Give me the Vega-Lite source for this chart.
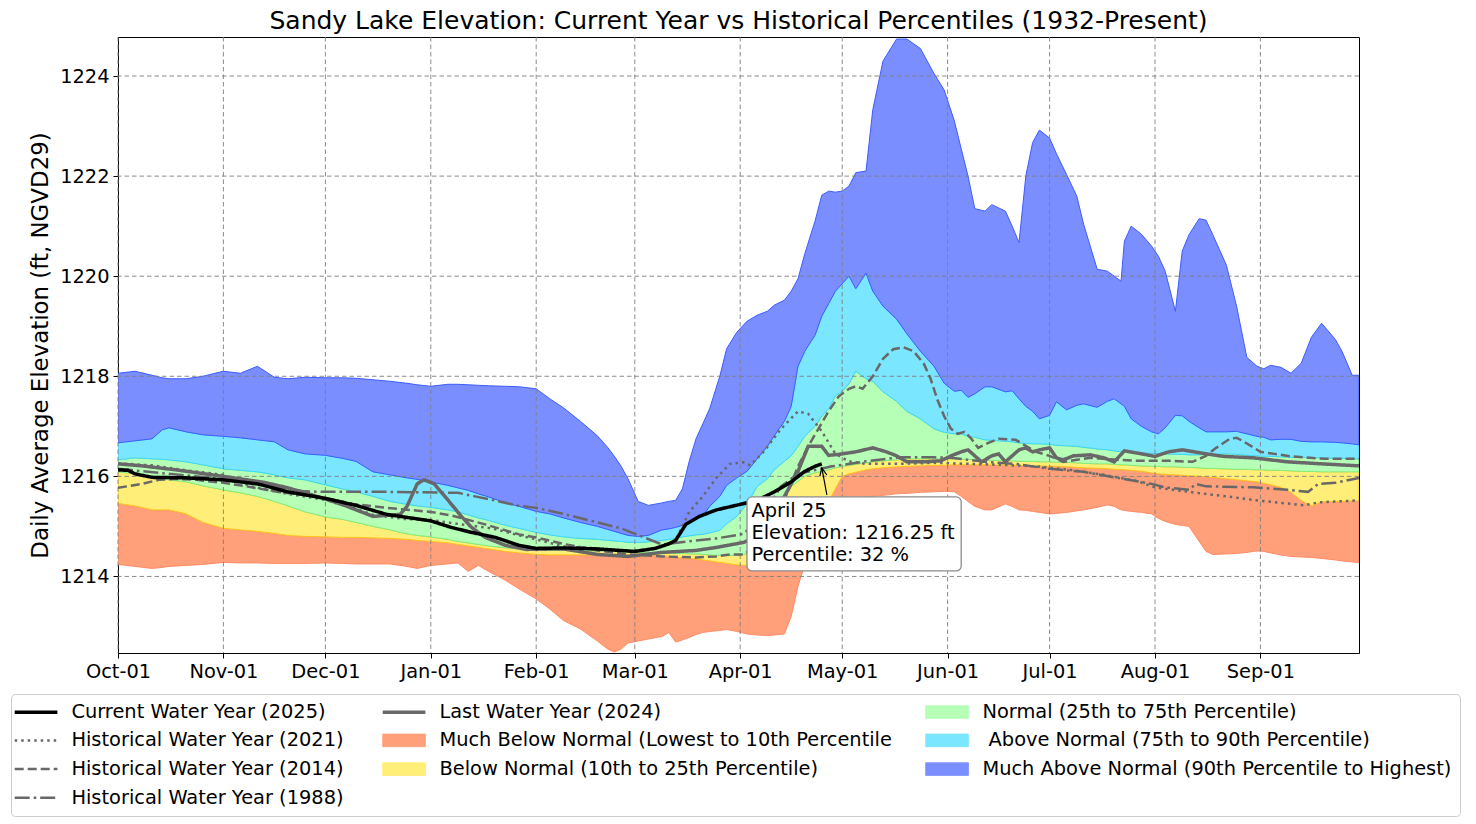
{
"$schema": "https://vega.github.io/schema/vega-lite/v6.json",
"autosize": {"type": "none"},
"padding": {"left": 118, "top": 37, "right": 117, "bottom": 171},
"width": 1241,
"height": 616,
"title": {"text": "Sandy Lake Elevation: Current Year vs Historical Percentiles (1932-Present)", "font": "DejaVu Sans", "fontSize": 25, "fontWeight": "normal", "color": "black", "offset": 3},
"config": {
  "font": "DejaVu Sans",
  "view": {"stroke": "black", "strokeWidth": 1},
  "axis": {"labelFont": "DejaVu Sans", "labelFontSize": 19.4, "labelColor": "black", "titleFont": "DejaVu Sans", "titleFontSize": 22.9, "titleFontWeight": "normal", "titleColor": "black", "tickColor": "black", "tickSize": 5, "tickWidth": 1, "domainColor": "black", "domainWidth": 1, "grid": false, "labelPadding": 4, "zindex": 1, "labelFlush": false}
},
"datasets": {
"bands": [
{"d":"2023-10-01","mn":1214.24,"p10":1215.46,"p25":1216.09,"p75":1216.33,"p90":1216.67,"mx":1218.06},
{"d":"2023-10-06","mn":1214.20,"p10":1215.41,"p25":1216.05,"p75":1216.37,"p90":1216.71,"mx":1218.10},
{"d":"2023-10-11","mn":1214.16,"p10":1215.33,"p25":1216.00,"p75":1216.35,"p90":1216.75,"mx":1218.02},
{"d":"2023-10-14","mn":1214.18,"p10":1215.33,"p25":1215.96,"p75":1216.34,"p90":1216.93,"mx":1217.97},
{"d":"2023-10-16","mn":1214.20,"p10":1215.33,"p25":1215.93,"p75":1216.33,"p90":1216.97,"mx":1217.95},
{"d":"2023-10-21","mn":1214.22,"p10":1215.25,"p25":1215.89,"p75":1216.29,"p90":1216.89,"mx":1217.95},
{"d":"2023-10-26","mn":1214.24,"p10":1215.08,"p25":1215.81,"p75":1216.23,"p90":1216.83,"mx":1218.00},
{"d":"2023-11-01","mn":1214.28,"p10":1214.96,"p25":1215.73,"p75":1216.15,"p90":1216.80,"mx":1218.10},
{"d":"2023-11-06","mn":1214.27,"p10":1214.93,"p25":1215.67,"p75":1216.12,"p90":1216.77,"mx":1218.06},
{"d":"2023-11-11","mn":1214.27,"p10":1214.90,"p25":1215.60,"p75":1216.09,"p90":1216.73,"mx":1218.20},
{"d":"2023-11-16","mn":1214.26,"p10":1214.86,"p25":1215.50,"p75":1216.03,"p90":1216.69,"mx":1217.98},
{"d":"2023-11-20","mn":1214.26,"p10":1214.82,"p25":1215.41,"p75":1215.97,"p90":1216.53,"mx":1217.95},
{"d":"2023-11-25","mn":1214.26,"p10":1214.80,"p25":1215.29,"p75":1215.93,"p90":1216.45,"mx":1217.98},
{"d":"2023-12-01","mn":1214.27,"p10":1214.79,"p25":1215.19,"p75":1215.83,"p90":1216.42,"mx":1217.97},
{"d":"2023-12-06","mn":1214.26,"p10":1214.78,"p25":1215.14,"p75":1215.75,"p90":1216.36,"mx":1217.97},
{"d":"2023-12-10","mn":1214.25,"p10":1214.78,"p25":1215.08,"p75":1215.69,"p90":1216.30,"mx":1217.96},
{"d":"2023-12-15","mn":1214.25,"p10":1214.77,"p25":1215.00,"p75":1215.60,"p90":1216.09,"mx":1217.93},
{"d":"2023-12-20","mn":1214.25,"p10":1214.76,"p25":1214.93,"p75":1215.50,"p90":1216.03,"mx":1217.90},
{"d":"2023-12-25","mn":1214.20,"p10":1214.74,"p25":1214.85,"p75":1215.44,"p90":1215.97,"mx":1217.86},
{"d":"2023-12-28","mn":1214.16,"p10":1214.72,"p25":1214.82,"p75":1215.41,"p90":1215.94,"mx":1217.83},
{"d":"2024-01-01","mn":1214.22,"p10":1214.70,"p25":1214.79,"p75":1215.38,"p90":1215.89,"mx":1217.80},
{"d":"2024-01-06","mn":1214.25,"p10":1214.67,"p25":1214.74,"p75":1215.33,"p90":1215.82,"mx":1217.84},
{"d":"2024-01-09","mn":1214.27,"p10":1214.64,"p25":1214.70,"p75":1215.29,"p90":1215.77,"mx":1217.84},
{"d":"2024-01-12","mn":1214.10,"p10":1214.61,"p25":1214.67,"p75":1215.23,"p90":1215.72,"mx":1217.83},
{"d":"2024-01-15","mn":1214.22,"p10":1214.58,"p25":1214.64,"p75":1215.17,"p90":1215.65,"mx":1217.82},
{"d":"2024-01-18","mn":1214.10,"p10":1214.55,"p25":1214.61,"p75":1215.12,"p90":1215.59,"mx":1217.81},
{"d":"2024-01-23","mn":1213.92,"p10":1214.50,"p25":1214.57,"p75":1215.02,"p90":1215.47,"mx":1217.80},
{"d":"2024-01-27","mn":1213.75,"p10":1214.47,"p25":1214.55,"p75":1214.96,"p90":1215.40,"mx":1217.79},
{"d":"2024-02-01","mn":1213.55,"p10":1214.44,"p25":1214.53,"p75":1214.88,"p90":1215.30,"mx":1217.75},
{"d":"2024-02-05","mn":1213.35,"p10":1214.43,"p25":1214.52,"p75":1214.83,"p90":1215.25,"mx":1217.55},
{"d":"2024-02-09","mn":1213.12,"p10":1214.43,"p25":1214.52,"p75":1214.79,"p90":1215.17,"mx":1217.37},
{"d":"2024-02-14","mn":1212.95,"p10":1214.43,"p25":1214.51,"p75":1214.76,"p90":1215.08,"mx":1217.10},
{"d":"2024-02-19","mn":1212.71,"p10":1214.43,"p25":1214.51,"p75":1214.74,"p90":1215.00,"mx":1216.81},
{"d":"2024-02-22","mn":1212.55,"p10":1214.43,"p25":1214.50,"p75":1214.72,"p90":1214.94,"mx":1216.58},
{"d":"2024-02-24","mn":1212.49,"p10":1214.43,"p25":1214.50,"p75":1214.71,"p90":1214.90,"mx":1216.40},
{"d":"2024-02-26","mn":1212.55,"p10":1214.43,"p25":1214.49,"p75":1214.70,"p90":1214.86,"mx":1216.20},
{"d":"2024-02-28","mn":1212.67,"p10":1214.43,"p25":1214.48,"p75":1214.68,"p90":1214.82,"mx":1215.95},
{"d":"2024-03-02","mn":1212.71,"p10":1214.43,"p25":1214.48,"p75":1214.68,"p90":1214.80,"mx":1215.50},
{"d":"2024-03-05","mn":1212.75,"p10":1214.43,"p25":1214.48,"p75":1214.69,"p90":1214.82,"mx":1215.42},
{"d":"2024-03-09","mn":1212.80,"p10":1214.42,"p25":1214.47,"p75":1214.72,"p90":1214.93,"mx":1215.47},
{"d":"2024-03-11","mn":1212.88,"p10":1214.40,"p25":1214.47,"p75":1214.74,"p90":1214.95,"mx":1215.50},
{"d":"2024-03-13","mn":1212.69,"p10":1214.38,"p25":1214.46,"p75":1214.76,"p90":1214.98,"mx":1215.52},
{"d":"2024-03-15","mn":1212.73,"p10":1214.37,"p25":1214.46,"p75":1214.79,"p90":1215.02,"mx":1215.75},
{"d":"2024-03-17","mn":1212.78,"p10":1214.36,"p25":1214.45,"p75":1214.81,"p90":1215.08,"mx":1216.30},
{"d":"2024-03-19","mn":1212.84,"p10":1214.35,"p25":1214.45,"p75":1214.83,"p90":1215.15,"mx":1216.75},
{"d":"2024-03-21","mn":1212.88,"p10":1214.33,"p25":1214.44,"p75":1214.84,"p90":1215.20,"mx":1217.05},
{"d":"2024-03-23","mn":1212.90,"p10":1214.31,"p25":1214.43,"p75":1214.87,"p90":1215.40,"mx":1217.35},
{"d":"2024-03-26","mn":1212.92,"p10":1214.28,"p25":1214.42,"p75":1214.92,"p90":1215.60,"mx":1218.00},
{"d":"2024-03-28","mn":1212.94,"p10":1214.26,"p25":1214.42,"p75":1215.05,"p90":1215.82,"mx":1218.55},
{"d":"2024-03-31","mn":1212.90,"p10":1214.23,"p25":1214.42,"p75":1215.20,"p90":1215.97,"mx":1218.88},
{"d":"2024-04-03","mn":1212.85,"p10":1214.22,"p25":1214.45,"p75":1215.45,"p90":1216.10,"mx":1219.10},
{"d":"2024-04-06","mn":1212.83,"p10":1214.25,"p25":1214.60,"p75":1215.80,"p90":1216.35,"mx":1219.22},
{"d":"2024-04-09","mn":1212.82,"p10":1214.28,"p25":1214.80,"p75":1215.95,"p90":1216.60,"mx":1219.30},
{"d":"2024-04-11","mn":1212.83,"p10":1214.30,"p25":1214.96,"p75":1216.13,"p90":1216.81,"mx":1219.42},
{"d":"2024-04-14","mn":1212.85,"p10":1214.35,"p25":1215.53,"p75":1216.30,"p90":1217.10,"mx":1219.52},
{"d":"2024-04-16","mn":1213.20,"p10":1214.45,"p25":1215.80,"p75":1216.41,"p90":1217.40,"mx":1219.70},
{"d":"2024-04-18","mn":1213.80,"p10":1214.55,"p25":1215.90,"p75":1216.60,"p90":1218.20,"mx":1219.95},
{"d":"2024-04-20","mn":1214.25,"p10":1214.70,"p25":1216.00,"p75":1216.80,"p90":1218.50,"mx":1220.45},
{"d":"2024-04-23","mn":1214.70,"p10":1215.00,"p25":1216.07,"p75":1217.00,"p90":1218.82,"mx":1221.10},
{"d":"2024-04-25","mn":1214.90,"p10":1215.20,"p25":1216.10,"p75":1217.20,"p90":1219.20,"mx":1221.62},
{"d":"2024-04-27","mn":1215.10,"p10":1215.50,"p25":1216.13,"p75":1217.35,"p90":1219.45,"mx":1221.70},
{"d":"2024-04-29","mn":1215.25,"p10":1215.75,"p25":1216.17,"p75":1217.61,"p90":1219.70,"mx":1221.68},
{"d":"2024-05-01","mn":1215.40,"p10":1216.00,"p25":1216.20,"p75":1217.70,"p90":1219.85,"mx":1221.70},
{"d":"2024-05-03","mn":1215.50,"p10":1216.05,"p25":1216.22,"p75":1217.85,"p90":1220.00,"mx":1221.80},
{"d":"2024-05-05","mn":1215.55,"p10":1216.08,"p25":1216.24,"p75":1218.10,"p90":1219.75,"mx":1222.07},
{"d":"2024-05-08","mn":1215.58,"p10":1216.13,"p25":1216.27,"p75":1217.95,"p90":1220.06,"mx":1222.10},
{"d":"2024-05-10","mn":1215.60,"p10":1216.15,"p25":1216.29,"p75":1217.90,"p90":1219.70,"mx":1223.33},
{"d":"2024-05-13","mn":1215.62,"p10":1216.17,"p25":1216.31,"p75":1217.69,"p90":1219.40,"mx":1224.30},
{"d":"2024-05-17","mn":1215.65,"p10":1216.19,"p25":1216.33,"p75":1217.50,"p90":1219.14,"mx":1224.74},
{"d":"2024-05-20","mn":1215.66,"p10":1216.20,"p25":1216.35,"p75":1217.30,"p90":1218.85,"mx":1224.74},
{"d":"2024-05-24","mn":1215.68,"p10":1216.21,"p25":1216.35,"p75":1217.15,"p90":1218.50,"mx":1224.55},
{"d":"2024-05-28","mn":1215.69,"p10":1216.22,"p25":1216.35,"p75":1216.95,"p90":1218.20,"mx":1224.05},
{"d":"2024-05-31","mn":1215.70,"p10":1216.22,"p25":1216.35,"p75":1216.88,"p90":1217.86,"mx":1223.72},
{"d":"2024-06-03","mn":1215.69,"p10":1216.23,"p25":1216.35,"p75":1216.85,"p90":1217.70,"mx":1223.10},
{"d":"2024-06-05","mn":1215.60,"p10":1216.23,"p25":1216.34,"p75":1216.85,"p90":1217.72,"mx":1222.55},
{"d":"2024-06-07","mn":1215.50,"p10":1216.23,"p25":1216.34,"p75":1216.80,"p90":1217.58,"mx":1222.00},
{"d":"2024-06-09","mn":1215.40,"p10":1216.23,"p25":1216.33,"p75":1216.78,"p90":1217.65,"mx":1221.35},
{"d":"2024-06-12","mn":1215.33,"p10":1216.23,"p25":1216.32,"p75":1216.73,"p90":1217.79,"mx":1221.30},
{"d":"2024-06-14","mn":1215.33,"p10":1216.23,"p25":1216.32,"p75":1216.72,"p90":1217.79,"mx":1221.43},
{"d":"2024-06-18","mn":1215.45,"p10":1216.22,"p25":1216.31,"p75":1216.70,"p90":1217.69,"mx":1221.30},
{"d":"2024-06-20","mn":1215.40,"p10":1216.22,"p25":1216.31,"p75":1216.69,"p90":1217.71,"mx":1221.00},
{"d":"2024-06-22","mn":1215.33,"p10":1216.22,"p25":1216.30,"p75":1216.67,"p90":1217.55,"mx":1220.67},
{"d":"2024-06-24","mn":1215.32,"p10":1216.21,"p25":1216.30,"p75":1216.66,"p90":1217.40,"mx":1222.00},
{"d":"2024-06-26","mn":1215.30,"p10":1216.21,"p25":1216.30,"p75":1216.65,"p90":1217.30,"mx":1222.67},
{"d":"2024-06-28","mn":1215.28,"p10":1216.21,"p25":1216.29,"p75":1216.65,"p90":1217.15,"mx":1222.92},
{"d":"2024-07-01","mn":1215.25,"p10":1216.20,"p25":1216.29,"p75":1216.64,"p90":1217.22,"mx":1222.76},
{"d":"2024-07-03","mn":1215.26,"p10":1216.20,"p25":1216.28,"p75":1216.62,"p90":1217.49,"mx":1222.45},
{"d":"2024-07-06","mn":1215.28,"p10":1216.19,"p25":1216.28,"p75":1216.61,"p90":1217.33,"mx":1222.03},
{"d":"2024-07-09","mn":1215.31,"p10":1216.18,"p25":1216.27,"p75":1216.60,"p90":1217.42,"mx":1221.60},
{"d":"2024-07-11","mn":1215.33,"p10":1216.17,"p25":1216.26,"p75":1216.58,"p90":1217.45,"mx":1221.04},
{"d":"2024-07-15","mn":1215.38,"p10":1216.16,"p25":1216.25,"p75":1216.55,"p90":1217.38,"mx":1220.14},
{"d":"2024-07-18","mn":1215.43,"p10":1216.15,"p25":1216.25,"p75":1216.53,"p90":1217.50,"mx":1220.10},
{"d":"2024-07-20","mn":1215.40,"p10":1216.14,"p25":1216.24,"p75":1216.51,"p90":1217.55,"mx":1220.00},
{"d":"2024-07-22","mn":1215.33,"p10":1216.13,"p25":1216.23,"p75":1216.49,"p90":1217.45,"mx":1219.90},
{"d":"2024-07-23","mn":1215.32,"p10":1216.13,"p25":1216.23,"p75":1216.49,"p90":1217.40,"mx":1220.70},
{"d":"2024-07-25","mn":1215.30,"p10":1216.12,"p25":1216.22,"p75":1216.48,"p90":1217.15,"mx":1221.00},
{"d":"2024-07-28","mn":1215.28,"p10":1216.10,"p25":1216.21,"p75":1216.47,"p90":1217.00,"mx":1220.84},
{"d":"2024-07-31","mn":1215.25,"p10":1216.07,"p25":1216.20,"p75":1216.46,"p90":1216.89,"mx":1220.60},
{"d":"2024-08-02","mn":1215.16,"p10":1216.05,"p25":1216.20,"p75":1216.45,"p90":1216.85,"mx":1220.40},
{"d":"2024-08-04","mn":1215.10,"p10":1216.04,"p25":1216.19,"p75":1216.45,"p90":1216.97,"mx":1220.10},
{"d":"2024-08-07","mn":1215.04,"p10":1216.03,"p25":1216.19,"p75":1216.44,"p90":1217.22,"mx":1219.30},
{"d":"2024-08-09","mn":1215.02,"p10":1216.02,"p25":1216.18,"p75":1216.44,"p90":1217.21,"mx":1220.50},
{"d":"2024-08-11","mn":1215.00,"p10":1216.01,"p25":1216.18,"p75":1216.43,"p90":1217.10,"mx":1220.83},
{"d":"2024-08-14","mn":1214.70,"p10":1216.00,"p25":1216.17,"p75":1216.43,"p90":1216.97,"mx":1221.15},
{"d":"2024-08-16","mn":1214.50,"p10":1215.99,"p25":1216.16,"p75":1216.44,"p90":1216.89,"mx":1221.12},
{"d":"2024-08-18","mn":1214.44,"p10":1215.98,"p25":1216.16,"p75":1216.44,"p90":1216.89,"mx":1220.83},
{"d":"2024-08-22","mn":1214.45,"p10":1215.95,"p25":1216.15,"p75":1216.45,"p90":1216.89,"mx":1220.22},
{"d":"2024-08-25","mn":1214.46,"p10":1215.93,"p25":1216.14,"p75":1216.44,"p90":1216.90,"mx":1219.40},
{"d":"2024-08-28","mn":1214.48,"p10":1215.91,"p25":1216.14,"p75":1216.42,"p90":1216.85,"mx":1218.38},
{"d":"2024-08-31","mn":1214.51,"p10":1215.89,"p25":1216.13,"p75":1216.41,"p90":1216.80,"mx":1218.20},
{"d":"2024-09-02","mn":1214.50,"p10":1215.86,"p25":1216.13,"p75":1216.40,"p90":1216.78,"mx":1218.15},
{"d":"2024-09-04","mn":1214.47,"p10":1215.83,"p25":1216.12,"p75":1216.40,"p90":1216.73,"mx":1218.22},
{"d":"2024-09-07","mn":1214.43,"p10":1215.78,"p25":1216.12,"p75":1216.39,"p90":1216.74,"mx":1218.18},
{"d":"2024-09-10","mn":1214.40,"p10":1215.68,"p25":1216.11,"p75":1216.38,"p90":1216.74,"mx":1218.06},
{"d":"2024-09-13","mn":1214.39,"p10":1215.52,"p25":1216.10,"p75":1216.38,"p90":1216.70,"mx":1218.26},
{"d":"2024-09-16","mn":1214.38,"p10":1215.41,"p25":1216.10,"p75":1216.37,"p90":1216.69,"mx":1218.78},
{"d":"2024-09-19","mn":1214.36,"p10":1215.49,"p25":1216.09,"p75":1216.37,"p90":1216.69,"mx":1219.06},
{"d":"2024-09-23","mn":1214.33,"p10":1215.50,"p25":1216.09,"p75":1216.36,"p90":1216.68,"mx":1218.74},
{"d":"2024-09-25","mn":1214.31,"p10":1215.50,"p25":1216.09,"p75":1216.36,"p90":1216.67,"mx":1218.50},
{"d":"2024-09-28","mn":1214.29,"p10":1215.51,"p25":1216.09,"p75":1216.35,"p90":1216.65,"mx":1218.02},
{"d":"2024-09-30","mn":1214.28,"p10":1215.51,"p25":1216.09,"p75":1216.35,"p90":1216.63,"mx":1218.02}
],
"cur": [
{"d":"2023-10-01","v":1216.13},{"d":"2023-10-04","v":1216.12},{"d":"2023-10-06","v":1216.05},{"d":"2023-10-11","v":1215.98},
{"d":"2023-10-21","v":1215.97},{"d":"2023-11-01","v":1215.93},{"d":"2023-11-11","v":1215.85},{"d":"2023-11-20","v":1215.69},
{"d":"2023-12-01","v":1215.56},{"d":"2023-12-10","v":1215.42},{"d":"2023-12-19","v":1215.24},{"d":"2024-01-01","v":1215.11},
{"d":"2024-01-07","v":1214.98},{"d":"2024-01-13","v":1214.88},{"d":"2024-01-20","v":1214.78},{"d":"2024-01-27","v":1214.62},
{"d":"2024-02-01","v":1214.56},{"d":"2024-02-09","v":1214.57},{"d":"2024-02-19","v":1214.55},{"d":"2024-03-01","v":1214.50},
{"d":"2024-03-07","v":1214.56},{"d":"2024-03-11","v":1214.65},{"d":"2024-03-13","v":1214.72},{"d":"2024-03-16","v":1215.04},
{"d":"2024-03-20","v":1215.20},{"d":"2024-03-25","v":1215.33},{"d":"2024-04-01","v":1215.44},{"d":"2024-04-06","v":1215.52},
{"d":"2024-04-11","v":1215.69},{"d":"2024-04-16","v":1215.89},{"d":"2024-04-20","v":1216.10},{"d":"2024-04-23","v":1216.20},
{"d":"2024-04-25","v":1216.25}
],
"last": [
{"d":"2023-10-01","v":1216.25},{"d":"2023-10-08","v":1216.21},{"d":"2023-10-18","v":1216.13},{"d":"2023-11-01","v":1216.00},
{"d":"2023-11-13","v":1215.88},{"d":"2023-11-20","v":1215.77},{"d":"2023-11-30","v":1215.57},{"d":"2023-12-07","v":1215.41},
{"d":"2023-12-15","v":1215.20},{"d":"2023-12-23","v":1215.24},{"d":"2023-12-25","v":1215.40},{"d":"2023-12-28","v":1215.85},
{"d":"2023-12-30","v":1215.93},{"d":"2024-01-02","v":1215.85},{"d":"2024-01-06","v":1215.53},{"d":"2024-01-10","v":1215.20},
{"d":"2024-01-13","v":1214.98},{"d":"2024-01-17","v":1214.78},{"d":"2024-01-23","v":1214.62},{"d":"2024-01-29","v":1214.54},
{"d":"2024-02-09","v":1214.55},{"d":"2024-02-19","v":1214.44},{"d":"2024-02-28","v":1214.40},{"d":"2024-03-09","v":1214.48},
{"d":"2024-03-19","v":1214.52},{"d":"2024-03-25","v":1214.58},{"d":"2024-03-29","v":1214.63},{"d":"2024-04-02","v":1214.68},
{"d":"2024-04-06","v":1214.80},{"d":"2024-04-10","v":1215.15},{"d":"2024-04-14","v":1215.60},{"d":"2024-04-18","v":1216.10},
{"d":"2024-04-21","v":1216.60},{"d":"2024-04-25","v":1216.60},{"d":"2024-04-27","v":1216.42},{"d":"2024-04-30","v":1216.44},
{"d":"2024-05-05","v":1216.49},{"d":"2024-05-10","v":1216.57},{"d":"2024-05-14","v":1216.49},{"d":"2024-05-17","v":1216.41},
{"d":"2024-05-20","v":1216.29},{"d":"2024-05-25","v":1216.29},{"d":"2024-05-30","v":1216.31},{"d":"2024-06-02","v":1216.41},
{"d":"2024-06-05","v":1216.49},{"d":"2024-06-07","v":1216.53},{"d":"2024-06-09","v":1216.41},{"d":"2024-06-11","v":1216.29},
{"d":"2024-06-14","v":1216.41},{"d":"2024-06-16","v":1216.45},{"d":"2024-06-18","v":1216.29},{"d":"2024-06-20","v":1216.41},
{"d":"2024-06-22","v":1216.53},{"d":"2024-06-24","v":1216.57},{"d":"2024-06-26","v":1216.49},{"d":"2024-06-28","v":1216.53},
{"d":"2024-07-01","v":1216.57},{"d":"2024-07-03","v":1216.37},{"d":"2024-07-05","v":1216.33},{"d":"2024-07-08","v":1216.41},
{"d":"2024-07-13","v":1216.43},{"d":"2024-07-17","v":1216.37},{"d":"2024-07-20","v":1216.29},{"d":"2024-07-23","v":1216.51},
{"d":"2024-07-28","v":1216.45},{"d":"2024-08-01","v":1216.40},{"d":"2024-08-05","v":1216.49},{"d":"2024-08-09","v":1216.53},
{"d":"2024-08-16","v":1216.45},{"d":"2024-08-21","v":1216.40},{"d":"2024-08-30","v":1216.37},{"d":"2024-09-09","v":1216.29},
{"d":"2024-09-19","v":1216.25},{"d":"2024-09-30","v":1216.21}
],
"y2021": [
{"d":"2023-10-01","v":1216.26},{"d":"2023-10-11","v":1216.22},{"d":"2023-10-21","v":1216.12},{"d":"2023-11-01","v":1216.03},
{"d":"2023-11-09","v":1215.80},{"d":"2023-11-20","v":1215.65},{"d":"2023-12-01","v":1215.53},{"d":"2023-12-10","v":1215.35},
{"d":"2023-12-15","v":1215.23},{"d":"2023-12-24","v":1215.15},{"d":"2024-01-01","v":1215.13},{"d":"2024-01-09","v":1215.05},
{"d":"2024-01-19","v":1214.96},{"d":"2024-01-27","v":1214.82},{"d":"2024-02-01","v":1214.74},{"d":"2024-02-09","v":1214.60},
{"d":"2024-02-19","v":1214.56},{"d":"2024-02-28","v":1214.50},{"d":"2024-03-07","v":1214.56},{"d":"2024-03-13","v":1214.72},
{"d":"2024-03-17","v":1215.29},{"d":"2024-03-21","v":1215.60},{"d":"2024-03-25","v":1215.97},{"d":"2024-03-29","v":1216.25},
{"d":"2024-04-02","v":1216.28},{"d":"2024-04-04","v":1216.22},{"d":"2024-04-08","v":1216.50},{"d":"2024-04-13","v":1216.95},
{"d":"2024-04-18","v":1217.30},{"d":"2024-04-21","v":1217.25},{"d":"2024-04-25","v":1216.90},{"d":"2024-04-29","v":1216.45},
{"d":"2024-05-03","v":1216.30},{"d":"2024-05-08","v":1216.25},{"d":"2024-05-18","v":1216.25},{"d":"2024-05-28","v":1216.27},
{"d":"2024-06-07","v":1216.25},{"d":"2024-06-17","v":1216.23},{"d":"2024-06-27","v":1216.20},{"d":"2024-07-07","v":1216.13},
{"d":"2024-07-17","v":1216.03},{"d":"2024-07-27","v":1215.90},{"d":"2024-08-01","v":1215.78},{"d":"2024-08-11","v":1215.69},
{"d":"2024-08-21","v":1215.61},{"d":"2024-08-31","v":1215.52},{"d":"2024-09-10","v":1215.45},{"d":"2024-09-14","v":1215.42},
{"d":"2024-09-18","v":1215.48},{"d":"2024-09-30","v":1215.52}
],
"y2014": [
{"d":"2023-10-01","v":1215.77},{"d":"2023-10-08","v":1215.85},{"d":"2023-10-13","v":1215.93},{"d":"2023-10-18","v":1215.95},
{"d":"2023-10-24","v":1215.93},{"d":"2023-11-01","v":1215.87},{"d":"2023-11-07","v":1215.81},{"d":"2023-11-17","v":1215.69},
{"d":"2023-11-27","v":1215.61},{"d":"2023-12-01","v":1215.57},{"d":"2023-12-09","v":1215.45},{"d":"2023-12-19","v":1215.37},
{"d":"2024-01-01","v":1215.29},{"d":"2024-01-07","v":1215.22},{"d":"2024-01-17","v":1215.04},{"d":"2024-01-27","v":1214.84},
{"d":"2024-02-01","v":1214.78},{"d":"2024-02-09","v":1214.65},{"d":"2024-02-19","v":1214.52},{"d":"2024-02-28","v":1214.44},
{"d":"2024-03-09","v":1214.40},{"d":"2024-03-19","v":1214.38},{"d":"2024-03-25","v":1214.40},{"d":"2024-03-29","v":1214.44},
{"d":"2024-04-02","v":1214.44},{"d":"2024-04-08","v":1214.70},{"d":"2024-04-12","v":1215.20},{"d":"2024-04-15","v":1215.70},
{"d":"2024-04-18","v":1216.20},{"d":"2024-04-21","v":1216.60},{"d":"2024-04-24","v":1216.95},{"d":"2024-04-27","v":1217.30},
{"d":"2024-04-30","v":1217.60},{"d":"2024-05-03","v":1217.75},{"d":"2024-05-05","v":1217.80},{"d":"2024-05-07","v":1217.75},
{"d":"2024-05-10","v":1218.00},{"d":"2024-05-13","v":1218.35},{"d":"2024-05-16","v":1218.54},{"d":"2024-05-19","v":1218.58},
{"d":"2024-05-22","v":1218.50},{"d":"2024-05-25","v":1218.25},{"d":"2024-05-27","v":1217.95},{"d":"2024-05-29","v":1217.53},
{"d":"2024-05-31","v":1217.20},{"d":"2024-06-02","v":1216.95},{"d":"2024-06-04","v":1216.85},{"d":"2024-06-06","v":1216.89},
{"d":"2024-06-08","v":1216.75},{"d":"2024-06-10","v":1216.57},{"d":"2024-06-13","v":1216.67},{"d":"2024-06-16","v":1216.75},
{"d":"2024-06-21","v":1216.73},{"d":"2024-06-24","v":1216.61},{"d":"2024-06-27","v":1216.49},{"d":"2024-07-01","v":1216.41},
{"d":"2024-07-05","v":1216.29},{"d":"2024-07-09","v":1216.33},{"d":"2024-07-13","v":1216.37},{"d":"2024-07-21","v":1216.33},
{"d":"2024-07-27","v":1216.31},{"d":"2024-08-06","v":1216.31},{"d":"2024-08-12","v":1216.29},{"d":"2024-08-16","v":1216.41},
{"d":"2024-08-19","v":1216.57},{"d":"2024-08-23","v":1216.75},{"d":"2024-08-25","v":1216.77},{"d":"2024-08-27","v":1216.70},
{"d":"2024-09-01","v":1216.49},{"d":"2024-09-10","v":1216.40},{"d":"2024-09-20","v":1216.35},{"d":"2024-09-30","v":1216.35}
],
"y1988": [
{"d":"2023-10-01","v":1216.15},{"d":"2023-10-16","v":1216.05},{"d":"2023-11-01","v":1215.95},{"d":"2023-11-15","v":1215.80},
{"d":"2023-11-25","v":1215.70},{"d":"2023-12-01","v":1215.69},{"d":"2023-12-20","v":1215.69},{"d":"2024-01-09","v":1215.67},
{"d":"2024-01-14","v":1215.60},{"d":"2024-01-19","v":1215.53},{"d":"2024-01-27","v":1215.41},{"d":"2024-02-01","v":1215.37},
{"d":"2024-02-09","v":1215.25},{"d":"2024-02-19","v":1215.08},{"d":"2024-02-26","v":1214.96},{"d":"2024-03-03","v":1214.80},
{"d":"2024-03-09","v":1214.64},{"d":"2024-03-14","v":1214.68},{"d":"2024-03-19","v":1214.72},{"d":"2024-03-25","v":1214.76},
{"d":"2024-04-02","v":1214.85},{"d":"2024-04-08","v":1215.25},{"d":"2024-04-13","v":1215.80},{"d":"2024-04-18","v":1216.05},
{"d":"2024-04-28","v":1216.20},{"d":"2024-05-08","v":1216.30},{"d":"2024-05-18","v":1216.38},{"d":"2024-05-28","v":1216.38},
{"d":"2024-06-02","v":1216.37},{"d":"2024-06-12","v":1216.29},{"d":"2024-06-21","v":1216.25},{"d":"2024-07-01","v":1216.15},
{"d":"2024-07-11","v":1216.09},{"d":"2024-07-21","v":1215.97},{"d":"2024-07-31","v":1215.85},{"d":"2024-08-04","v":1215.78},
{"d":"2024-08-11","v":1215.73},{"d":"2024-08-13","v":1215.85},{"d":"2024-08-16","v":1215.80},{"d":"2024-08-30","v":1215.78},
{"d":"2024-09-09","v":1215.73},{"d":"2024-09-15","v":1215.69},{"d":"2024-09-18","v":1215.85},{"d":"2024-09-23","v":1215.87},
{"d":"2024-09-30","v":1215.97}
],
"gridx": [
{"d":"2023-10-01"},{"d":"2023-11-01"},{"d":"2023-12-01"},{"d":"2024-01-01"},{"d":"2024-02-01"},{"d":"2024-03-01"},
{"d":"2024-04-01"},{"d":"2024-05-01"},{"d":"2024-06-01"},{"d":"2024-07-01"},{"d":"2024-08-01"},{"d":"2024-09-01"}
],
"gridy": [{"v":1214},{"v":1216},{"v":1218},{"v":1220},{"v":1222},{"v":1224}],
"box": [{"x":"2024-04-03","x2":"2024-06-05","y":1215.59,"y2":1214.11}],
"note": [{"x":"2024-04-04","y":1215.31,"t":"April 25\nElevation: 1216.25 ft\nPercentile: 32 %"}],
"arrow": [{"x":"2024-04-26T12:00:00Z","y":1215.63,"x2":"2024-04-25","y2":1216.17}],
"tip": [{"x":"2024-04-25","y":1216.17}]
},
"layer": [
{"data": {"name": "bands"},
 "mark": {"type": "area", "stroke": "#ff8c66", "strokeWidth": 1, "clip": true},
 "encoding": {
  "x": {"field": "d", "type": "temporal",
        "scale": {"type": "utc", "domain": [{"year": 2023, "month": 10, "date": 1, "utc": true}, {"year": 2024, "month": 9, "date": 30, "utc": true}]},
        "axis": {"title": null, "format": "%b-%d",
                 "values": [{"year":2023,"month":10,"date":1,"utc":true},{"year":2023,"month":11,"date":1,"utc":true},{"year":2023,"month":12,"date":1,"utc":true},{"year":2024,"month":1,"date":1,"utc":true},{"year":2024,"month":2,"date":1,"utc":true},{"year":2024,"month":3,"date":1,"utc":true},{"year":2024,"month":4,"date":1,"utc":true},{"year":2024,"month":5,"date":1,"utc":true},{"year":2024,"month":6,"date":1,"utc":true},{"year":2024,"month":7,"date":1,"utc":true},{"year":2024,"month":8,"date":1,"utc":true},{"year":2024,"month":9,"date":1,"utc":true}]}},
  "y": {"field": "mn", "type": "quantitative",
        "scale": {"domain": [1212.47, 1224.78], "nice": false, "zero": false},
        "axis": {"title": "Daily Average Elevation (ft, NGVD29)", "values": [1214, 1216, 1218, 1220, 1222, 1224], "format": "d", "titlePadding": 7}},
  "y2": {"field": "p10"},
  "color": {"datum": "Much Below Normal (Lowest to 10th Percentile", "type": "nominal",
    "scale": {"domain": ["Current Water Year (2025)", "Historical Water Year (2021)", "Historical Water Year (2014)", "Much Above Normal (90th Percentile to Highest)", "Last Water Year (2024)", "Much Below Normal (Lowest to 10th Percentile", "Below Normal (10th to 25th Percentile)", "Historical Water Year (1988)", "Normal (25th to 75th Percentile)", "\u200b Above Normal (75th to 90th Percentile)"],
              "range": ["#000000", "#686868", "#686868", "#7b8eff", "#686868", "#ffa07a", "#ffee77", "#686868", "#b6ffb6", "#7be6ff"]},
    "legend": {"orient": "none", "legendX": -107, "legendY": 657, "title": null, "columns": 3, "direction": "vertical",
      "columnPadding": 31, "rowPadding": 7.7, "labelFont": "DejaVu Sans", "labelFontSize": 19.4, "labelColor": "black", "labelLimit": 0, "labelOffset": 33,
      "symbolSize": 196, "symbolOpacity": 1, "strokeColor": "#cccccc", "fillColor": "white", "padding": 8, "cornerRadius": 4}
  }
 }},
{"data": {"name": "bands"},
 "mark": {"type": "area", "stroke": "#ffc21a", "strokeWidth": 1, "clip": true},
 "encoding": {"x": {"field": "d", "type": "temporal"}, "y": {"field": "p10", "type": "quantitative"}, "y2": {"field": "p25"},
  "color": {"datum": "Below Normal (10th to 25th Percentile)", "type": "nominal",
    "scale": {"domain": ["Current Water Year (2025)", "Historical Water Year (2021)", "Historical Water Year (2014)", "Much Above Normal (90th Percentile to Highest)", "Last Water Year (2024)", "Much Below Normal (Lowest to 10th Percentile", "Below Normal (10th to 25th Percentile)", "Historical Water Year (1988)", "Normal (25th to 75th Percentile)", "\u200b Above Normal (75th to 90th Percentile)"],
              "range": ["#000000", "#686868", "#686868", "#7b8eff", "#686868", "#ffa07a", "#ffee77", "#686868", "#b6ffb6", "#7be6ff"]}}}},
{"data": {"name": "bands"},
 "mark": {"type": "area", "stroke": "#7df07d", "strokeWidth": 1, "clip": true},
 "encoding": {"x": {"field": "d", "type": "temporal"}, "y": {"field": "p25", "type": "quantitative"}, "y2": {"field": "p75"},
  "color": {"datum": "Normal (25th to 75th Percentile)", "type": "nominal",
    "scale": {"domain": ["Current Water Year (2025)", "Historical Water Year (2021)", "Historical Water Year (2014)", "Much Above Normal (90th Percentile to Highest)", "Last Water Year (2024)", "Much Below Normal (Lowest to 10th Percentile", "Below Normal (10th to 25th Percentile)", "Historical Water Year (1988)", "Normal (25th to 75th Percentile)", "\u200b Above Normal (75th to 90th Percentile)"],
              "range": ["#000000", "#686868", "#686868", "#7b8eff", "#686868", "#ffa07a", "#ffee77", "#686868", "#b6ffb6", "#7be6ff"]}}}},
{"data": {"name": "bands"},
 "mark": {"type": "area", "stroke": "#3dd6ff", "strokeWidth": 1, "clip": true},
 "encoding": {"x": {"field": "d", "type": "temporal"}, "y": {"field": "p75", "type": "quantitative"}, "y2": {"field": "p90"},
  "color": {"datum": "\u200b Above Normal (75th to 90th Percentile)", "type": "nominal",
    "scale": {"domain": ["Current Water Year (2025)", "Historical Water Year (2021)", "Historical Water Year (2014)", "Much Above Normal (90th Percentile to Highest)", "Last Water Year (2024)", "Much Below Normal (Lowest to 10th Percentile", "Below Normal (10th to 25th Percentile)", "Historical Water Year (1988)", "Normal (25th to 75th Percentile)", "\u200b Above Normal (75th to 90th Percentile)"],
              "range": ["#000000", "#686868", "#686868", "#7b8eff", "#686868", "#ffa07a", "#ffee77", "#686868", "#b6ffb6", "#7be6ff"]}}}},
{"data": {"name": "bands"},
 "mark": {"type": "area", "stroke": "#3d5cff", "strokeWidth": 1, "clip": true},
 "encoding": {"x": {"field": "d", "type": "temporal"}, "y": {"field": "p90", "type": "quantitative"}, "y2": {"field": "mx"},
  "color": {"datum": "Much Above Normal (90th Percentile to Highest)", "type": "nominal",
    "scale": {"domain": ["Current Water Year (2025)", "Historical Water Year (2021)", "Historical Water Year (2014)", "Much Above Normal (90th Percentile to Highest)", "Last Water Year (2024)", "Much Below Normal (Lowest to 10th Percentile", "Below Normal (10th to 25th Percentile)", "Historical Water Year (1988)", "Normal (25th to 75th Percentile)", "\u200b Above Normal (75th to 90th Percentile)"],
              "range": ["#000000", "#686868", "#686868", "#7b8eff", "#686868", "#ffa07a", "#ffee77", "#686868", "#b6ffb6", "#7be6ff"]}}}},
{"data": {"name": "gridx"},
 "mark": {"type": "rule", "color": "#7f7f7f", "strokeWidth": 0.9, "strokeDash": [4.5, 3]},
 "encoding": {"x": {"field": "d", "type": "temporal"}}},
{"data": {"name": "gridy"},
 "mark": {"type": "rule", "color": "#7f7f7f", "strokeWidth": 0.9, "strokeDash": [4.5, 3]},
 "encoding": {"y": {"field": "v", "type": "quantitative"}}},
{"data": {"name": "y1988"},
 "mark": {"type": "line", "clip": true},
 "encoding": {"x": {"field": "d", "type": "temporal"}, "y": {"field": "v", "type": "quantitative"},
  "color": {"datum": "Historical Water Year (1988)", "type": "nominal",
    "scale": {"domain": ["Current Water Year (2025)", "Historical Water Year (2021)", "Historical Water Year (2014)", "Much Above Normal (90th Percentile to Highest)", "Last Water Year (2024)", "Much Below Normal (Lowest to 10th Percentile", "Below Normal (10th to 25th Percentile)", "Historical Water Year (1988)", "Normal (25th to 75th Percentile)", "\u200b Above Normal (75th to 90th Percentile)"],
              "range": ["#000000", "#686868", "#686868", "#7b8eff", "#686868", "#ffa07a", "#ffee77", "#686868", "#b6ffb6", "#7be6ff"]}},
  "strokeDash": {"datum": "Historical Water Year (1988)", "type": "nominal",
    "scale": {"type": "ordinal", "domain": ["Current Water Year (2025)", "Historical Water Year (2021)", "Historical Water Year (2014)", "Much Above Normal (90th Percentile to Highest)", "Last Water Year (2024)", "Much Below Normal (Lowest to 10th Percentile", "Below Normal (10th to 25th Percentile)", "Historical Water Year (1988)", "Normal (25th to 75th Percentile)", "\u200b Above Normal (75th to 90th Percentile)"],
              "range": [[1, 0], [2.5, 4], [9, 4], [1, 0], [1, 0], [1, 0], [1, 0], [15, 4, 2.5, 4], [1, 0], [1, 0]]}},
  "strokeWidth": {"datum": "Historical Water Year (1988)", "type": "nominal",
    "scale": {"type": "ordinal", "domain": ["Current Water Year (2025)", "Historical Water Year (2021)", "Historical Water Year (2014)", "Much Above Normal (90th Percentile to Highest)", "Last Water Year (2024)", "Much Below Normal (Lowest to 10th Percentile", "Below Normal (10th to 25th Percentile)", "Historical Water Year (1988)", "Normal (25th to 75th Percentile)", "\u200b Above Normal (75th to 90th Percentile)"],
              "range": [3.5, 2.5, 2.5, 1, 3.5, 1, 1, 2.5, 1, 1]}}}},
{"data": {"name": "y2014"},
 "mark": {"type": "line", "clip": true},
 "encoding": {"x": {"field": "d", "type": "temporal"}, "y": {"field": "v", "type": "quantitative"},
  "color": {"datum": "Historical Water Year (2014)", "type": "nominal",
    "scale": {"domain": ["Current Water Year (2025)", "Historical Water Year (2021)", "Historical Water Year (2014)", "Much Above Normal (90th Percentile to Highest)", "Last Water Year (2024)", "Much Below Normal (Lowest to 10th Percentile", "Below Normal (10th to 25th Percentile)", "Historical Water Year (1988)", "Normal (25th to 75th Percentile)", "\u200b Above Normal (75th to 90th Percentile)"],
              "range": ["#000000", "#686868", "#686868", "#7b8eff", "#686868", "#ffa07a", "#ffee77", "#686868", "#b6ffb6", "#7be6ff"]}},
  "strokeDash": {"datum": "Historical Water Year (2014)", "type": "nominal",
    "scale": {"type": "ordinal", "domain": ["Current Water Year (2025)", "Historical Water Year (2021)", "Historical Water Year (2014)", "Much Above Normal (90th Percentile to Highest)", "Last Water Year (2024)", "Much Below Normal (Lowest to 10th Percentile", "Below Normal (10th to 25th Percentile)", "Historical Water Year (1988)", "Normal (25th to 75th Percentile)", "\u200b Above Normal (75th to 90th Percentile)"],
              "range": [[1, 0], [2.5, 4], [9, 4], [1, 0], [1, 0], [1, 0], [1, 0], [15, 4, 2.5, 4], [1, 0], [1, 0]]}},
  "strokeWidth": {"datum": "Historical Water Year (2014)", "type": "nominal",
    "scale": {"type": "ordinal", "domain": ["Current Water Year (2025)", "Historical Water Year (2021)", "Historical Water Year (2014)", "Much Above Normal (90th Percentile to Highest)", "Last Water Year (2024)", "Much Below Normal (Lowest to 10th Percentile", "Below Normal (10th to 25th Percentile)", "Historical Water Year (1988)", "Normal (25th to 75th Percentile)", "\u200b Above Normal (75th to 90th Percentile)"],
              "range": [3.5, 2.5, 2.5, 1, 3.5, 1, 1, 2.5, 1, 1]}}}},
{"data": {"name": "y2021"},
 "mark": {"type": "line", "clip": true},
 "encoding": {"x": {"field": "d", "type": "temporal"}, "y": {"field": "v", "type": "quantitative"},
  "color": {"datum": "Historical Water Year (2021)", "type": "nominal",
    "scale": {"domain": ["Current Water Year (2025)", "Historical Water Year (2021)", "Historical Water Year (2014)", "Much Above Normal (90th Percentile to Highest)", "Last Water Year (2024)", "Much Below Normal (Lowest to 10th Percentile", "Below Normal (10th to 25th Percentile)", "Historical Water Year (1988)", "Normal (25th to 75th Percentile)", "\u200b Above Normal (75th to 90th Percentile)"],
              "range": ["#000000", "#686868", "#686868", "#7b8eff", "#686868", "#ffa07a", "#ffee77", "#686868", "#b6ffb6", "#7be6ff"]}},
  "strokeDash": {"datum": "Historical Water Year (2021)", "type": "nominal",
    "scale": {"type": "ordinal", "domain": ["Current Water Year (2025)", "Historical Water Year (2021)", "Historical Water Year (2014)", "Much Above Normal (90th Percentile to Highest)", "Last Water Year (2024)", "Much Below Normal (Lowest to 10th Percentile", "Below Normal (10th to 25th Percentile)", "Historical Water Year (1988)", "Normal (25th to 75th Percentile)", "\u200b Above Normal (75th to 90th Percentile)"],
              "range": [[1, 0], [2.5, 4], [9, 4], [1, 0], [1, 0], [1, 0], [1, 0], [15, 4, 2.5, 4], [1, 0], [1, 0]]}},
  "strokeWidth": {"datum": "Historical Water Year (2021)", "type": "nominal",
    "scale": {"type": "ordinal", "domain": ["Current Water Year (2025)", "Historical Water Year (2021)", "Historical Water Year (2014)", "Much Above Normal (90th Percentile to Highest)", "Last Water Year (2024)", "Much Below Normal (Lowest to 10th Percentile", "Below Normal (10th to 25th Percentile)", "Historical Water Year (1988)", "Normal (25th to 75th Percentile)", "\u200b Above Normal (75th to 90th Percentile)"],
              "range": [3.5, 2.5, 2.5, 1, 3.5, 1, 1, 2.5, 1, 1]}}}},
{"data": {"name": "last"},
 "mark": {"type": "line", "clip": true},
 "encoding": {"x": {"field": "d", "type": "temporal"}, "y": {"field": "v", "type": "quantitative"},
  "color": {"datum": "Last Water Year (2024)", "type": "nominal",
    "scale": {"domain": ["Current Water Year (2025)", "Historical Water Year (2021)", "Historical Water Year (2014)", "Much Above Normal (90th Percentile to Highest)", "Last Water Year (2024)", "Much Below Normal (Lowest to 10th Percentile", "Below Normal (10th to 25th Percentile)", "Historical Water Year (1988)", "Normal (25th to 75th Percentile)", "\u200b Above Normal (75th to 90th Percentile)"],
              "range": ["#000000", "#686868", "#686868", "#7b8eff", "#686868", "#ffa07a", "#ffee77", "#686868", "#b6ffb6", "#7be6ff"]}},
  "strokeDash": {"datum": "Last Water Year (2024)", "type": "nominal",
    "scale": {"type": "ordinal", "domain": ["Current Water Year (2025)", "Historical Water Year (2021)", "Historical Water Year (2014)", "Much Above Normal (90th Percentile to Highest)", "Last Water Year (2024)", "Much Below Normal (Lowest to 10th Percentile", "Below Normal (10th to 25th Percentile)", "Historical Water Year (1988)", "Normal (25th to 75th Percentile)", "\u200b Above Normal (75th to 90th Percentile)"],
              "range": [[1, 0], [2.5, 4], [9, 4], [1, 0], [1, 0], [1, 0], [1, 0], [15, 4, 2.5, 4], [1, 0], [1, 0]]}},
  "strokeWidth": {"datum": "Last Water Year (2024)", "type": "nominal",
    "scale": {"type": "ordinal", "domain": ["Current Water Year (2025)", "Historical Water Year (2021)", "Historical Water Year (2014)", "Much Above Normal (90th Percentile to Highest)", "Last Water Year (2024)", "Much Below Normal (Lowest to 10th Percentile", "Below Normal (10th to 25th Percentile)", "Historical Water Year (1988)", "Normal (25th to 75th Percentile)", "\u200b Above Normal (75th to 90th Percentile)"],
              "range": [3.5, 2.5, 2.5, 1, 3.5, 1, 1, 2.5, 1, 1]}}}},
{"data": {"name": "cur"},
 "mark": {"type": "line", "clip": true},
 "encoding": {"x": {"field": "d", "type": "temporal"}, "y": {"field": "v", "type": "quantitative"},
  "color": {"datum": "Current Water Year (2025)", "type": "nominal",
    "scale": {"domain": ["Current Water Year (2025)", "Historical Water Year (2021)", "Historical Water Year (2014)", "Much Above Normal (90th Percentile to Highest)", "Last Water Year (2024)", "Much Below Normal (Lowest to 10th Percentile", "Below Normal (10th to 25th Percentile)", "Historical Water Year (1988)", "Normal (25th to 75th Percentile)", "\u200b Above Normal (75th to 90th Percentile)"],
              "range": ["#000000", "#686868", "#686868", "#7b8eff", "#686868", "#ffa07a", "#ffee77", "#686868", "#b6ffb6", "#7be6ff"]}},
  "strokeDash": {"datum": "Current Water Year (2025)", "type": "nominal",
    "scale": {"type": "ordinal", "domain": ["Current Water Year (2025)", "Historical Water Year (2021)", "Historical Water Year (2014)", "Much Above Normal (90th Percentile to Highest)", "Last Water Year (2024)", "Much Below Normal (Lowest to 10th Percentile", "Below Normal (10th to 25th Percentile)", "Historical Water Year (1988)", "Normal (25th to 75th Percentile)", "\u200b Above Normal (75th to 90th Percentile)"],
              "range": [[1, 0], [2.5, 4], [9, 4], [1, 0], [1, 0], [1, 0], [1, 0], [15, 4, 2.5, 4], [1, 0], [1, 0]]}},
  "strokeWidth": {"datum": "Current Water Year (2025)", "type": "nominal",
    "scale": {"type": "ordinal", "domain": ["Current Water Year (2025)", "Historical Water Year (2021)", "Historical Water Year (2014)", "Much Above Normal (90th Percentile to Highest)", "Last Water Year (2024)", "Much Below Normal (Lowest to 10th Percentile", "Below Normal (10th to 25th Percentile)", "Historical Water Year (1988)", "Normal (25th to 75th Percentile)", "\u200b Above Normal (75th to 90th Percentile)"],
              "range": [3.5, 2.5, 2.5, 1, 3.5, 1, 1, 2.5, 1, 1]}}}},
{"data": {"name": "tip"},
 "mark": {"type": "point", "opacity": 0, "clip": true},
 "encoding": {"x": {"field": "x", "type": "temporal"}, "y": {"field": "y", "type": "quantitative"},
  "shape": {"datum": "Current Water Year (2025)", "type": "nominal",
    "scale": {"domain": ["Current Water Year (2025)", "Historical Water Year (2021)", "Historical Water Year (2014)", "Much Above Normal (90th Percentile to Highest)", "Last Water Year (2024)", "Much Below Normal (Lowest to 10th Percentile", "Below Normal (10th to 25th Percentile)", "Historical Water Year (1988)", "Normal (25th to 75th Percentile)", "\u200b Above Normal (75th to 90th Percentile)"],
              "range": ["M-2,0L4.1,0", "M-2,0L4.1,0", "M-2,0L4.1,0", "M-2,-0.9L4.1,-0.9L4.1,0.9L-2,0.9Z", "M-2,0L4.1,0", "M-2,-0.9L4.1,-0.9L4.1,0.9L-2,0.9Z", "M-2,-0.9L4.1,-0.9L4.1,0.9L-2,0.9Z", "M-2,0L4.1,0", "M-2,-0.9L4.1,-0.9L4.1,0.9L-2,0.9Z", "M-2,-0.9L4.1,-0.9L4.1,0.9L-2,0.9Z"]},
    "legend": {"symbolOpacity": 1}}}},
{"data": {"name": "box"},
 "mark": {"type": "rect", "fill": "white", "stroke": "#8c8c8c", "strokeWidth": 1.3, "cornerRadius": 5},
 "encoding": {"x": {"field": "x", "type": "temporal"}, "x2": {"field": "x2"}, "y": {"field": "y", "type": "quantitative"}, "y2": {"field": "y2"}}},
{"data": {"name": "note"},
 "mark": {"type": "text", "align": "left", "baseline": "middle", "lineBreak": "\n", "lineHeight": 22, "fontSize": 19.4, "font": "DejaVu Sans", "color": "black", "dx": 1},
 "encoding": {"x": {"field": "x", "type": "temporal"}, "y": {"field": "y", "type": "quantitative"}, "text": {"field": "t"}}},
{"data": {"name": "arrow"},
 "mark": {"type": "rule", "color": "black", "strokeWidth": 1.2},
 "encoding": {"x": {"field": "x", "type": "temporal"}, "x2": {"field": "x2"}, "y": {"field": "y", "type": "quantitative"}, "y2": {"field": "y2"}}},
{"data": {"name": "tip"},
 "mark": {"type": "point", "shape": "M-0.45,1L0,0L0.45,1", "filled": false, "size": 256, "stroke": "black", "strokeWidth": 1.2, "angle": -11, "opacity": 1},
 "encoding": {"x": {"field": "x", "type": "temporal"}, "y": {"field": "y", "type": "quantitative"}}}
]
}
